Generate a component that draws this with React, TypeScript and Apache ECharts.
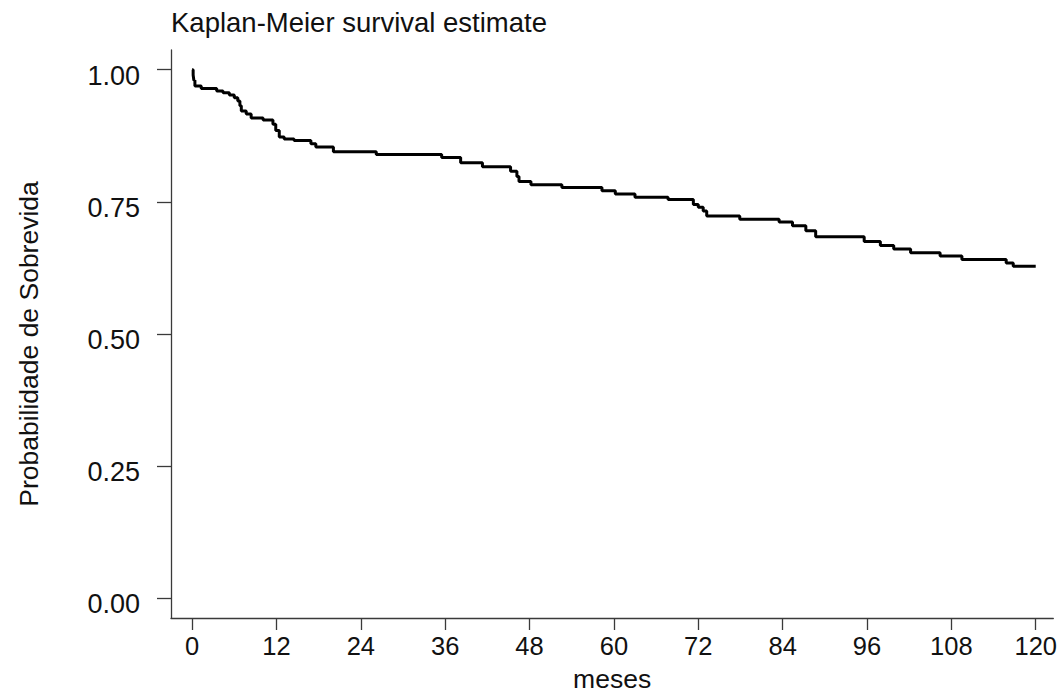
import React, { useEffect, useRef } from "react";
import * as echarts from "echarts";

const titleText = "Kaplan-Meier survival estimate";
const xAxisName = "meses";
const yAxisName = "Probabilidade de Sobrevida";

const xTicks = [0, 12, 24, 36, 48, 60, 72, 84, 96, 108, 120];
const yTicks = [0, 0.25, 0.5, 0.75, 1];

// event times (months) and survival after each event
const months = [
  0, 0.15, 0.25, 0.4, 1.3, 3.5, 4.4, 5.3, 6.0, 6.5, 6.8, 7.0, 7.7, 8.4, 10.1,
  11.5, 11.9, 12.4, 13.1, 14.5, 16.9, 17.6, 20.1, 26.2, 35.5, 38.2, 41.3, 45.3,
  46.2, 46.5, 48.2, 52.6, 58.3, 60.2, 63.0, 67.7, 71.3, 72.0, 72.7, 73.2, 77.9,
  83.5, 85.4, 87.3, 88.7, 95.6, 97.9, 99.8, 102.2, 106.4, 109.5, 115.8, 116.8,
  120,
];
const survival = [
  1.0, 0.99, 0.98, 0.969, 0.9646, 0.9595, 0.9565, 0.952, 0.947, 0.941, 0.932,
  0.922, 0.916, 0.9086, 0.905, 0.897, 0.885, 0.8725, 0.869, 0.866, 0.86, 0.854,
  0.8446, 0.8396, 0.834, 0.824, 0.8166, 0.808, 0.798, 0.7886, 0.7823, 0.7774,
  0.771, 0.765, 0.7587, 0.7543, 0.745, 0.74, 0.7326, 0.7233, 0.717, 0.712,
  0.7046, 0.6953, 0.684, 0.6748, 0.6673, 0.661, 0.6536, 0.6474, 0.641, 0.6343,
  0.628, 0.628,
];

export default function App() {
  const ref = useRef<HTMLDivElement>(null);
  useEffect(() => {
    if (!ref.current) return;
    const chart = echarts.init(ref.current, null, { renderer: "svg" });
    const font = "'Liberation Sans', Arial, sans-serif";
    const axisColor = "#3a3a3a";
    chart.setOption({
      animation: false,
      backgroundColor: "#ffffff",
      title: {
        text: titleText,
        left: 171,
        top: 8,
        padding: 0,
        textStyle: {
          fontFamily: font,
          fontSize: 27.5,
          fontWeight: "normal",
          color: "#111111",
        },
      },
      graphic: [
        {
          type: "text",
          x: 29,
          y: 344,
          rotation: Math.PI / 2,
          style: {
            text: yAxisName,
            fontFamily: font,
            fontSize: 26.5,
            fill: "#111111",
            align: "center",
            verticalAlign: "middle",
          },
        },
      ],
      grid: { left: 171, right: 2, top: 50, bottom: 71, containLabel: false },
      xAxis: {
        type: "value",
        min: -3,
        max: 122.5,
        name: xAxisName,
        nameLocation: "middle",
        nameGap: 47,
        nameTextStyle: { fontFamily: font, fontSize: 26.5, color: "#111111" },
        axisLine: { onZero: false, lineStyle: { color: axisColor, width: 1.3 } },
        axisTick: {
          show: true,
          length: 12,
          customValues: xTicks,
          lineStyle: { color: axisColor, width: 1.3 },
        },
        axisLabel: {
          customValues: xTicks,
          margin: 15,
          fontFamily: font,
          fontSize: 25.5,
          color: "#111111",
        },
        splitLine: { show: false },
      },
      yAxis: {
        type: "value",
        min: -0.0373,
        max: 1.0373,
        axisLine: {
          show: true,
          onZero: false,
          lineStyle: { color: axisColor, width: 1.3 },
        },
        axisTick: {
          show: true,
          length: 14,
          customValues: yTicks,
          lineStyle: { color: axisColor, width: 1.3 },
        },
        axisLabel: {
          customValues: yTicks,
          margin: 31,
          fontFamily: font,
          fontSize: 27,
          color: "#111111",
          verticalAlign: "top",
          lineHeight: 12,
          formatter: (v: number) => v.toFixed(2),
        },
        splitLine: { show: false },
      },
      series: [
        {
          type: "line",
          step: "end",
          showSymbol: false,
          symbol: "none",
          data: months.map((m, i) => [m, survival[i]]),
          lineStyle: { color: "#000000", width: 3 },
        },
      ],
    });
    return () => chart.dispose();
  }, []);
  return (
    <div
      ref={ref}
      style={{ position: "fixed", left: 0, top: 0, width: 1060, height: 697 }}
    />
  );
}
